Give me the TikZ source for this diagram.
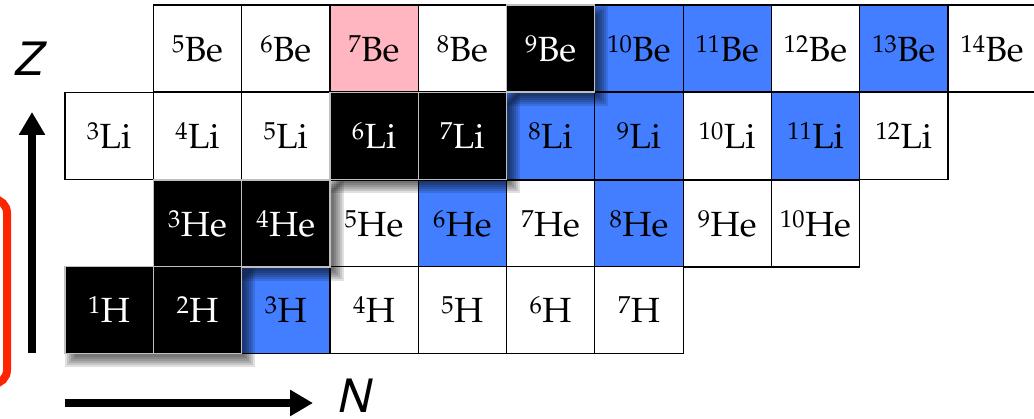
\documentclass[tikz,border=0pt]{standalone}
\usepackage[T1]{fontenc}
\usepackage{tikz}
\usetikzlibrary{arrows.meta,calc}
\renewcommand{\rmdefault}{ppl}

\definecolor{haloblue}{RGB}{66,126,255}
\definecolor{pinkfill}{RGB}{255,182,193}
\definecolor{framered}{RGB}{255,36,0}
\newcommand{\isofont}{\fontfamily{ppl}\fontsize{35}{40}\selectfont}
\newcommand{\axisfont}{\fontfamily{phv}\fontshape{sl}\fontsize{46}{50}\selectfont}
% soft drop shadow under a block of stable nuclei
\newcommand{\softshadow}[2]{%
  \foreach \k in {6,4,2,0,-2,-4}
    \fill[black, opacity=0.12] ($(#1.north west)+(7-\k,7-\k)$) rectangle ($(#2.south east)+(7+\k,7+\k)$);}
\pgfdeclarelayer{front}
\pgfsetlayers{main,front}

\tikzset{
  cell/.style={rectangle, minimum width=88.3pt, minimum height=87.1pt, inner sep=0pt, font=\isofont, line width=1.2pt},
  plain/.style={cell, draw=black, fill=white},
  halo/.style={cell, draw=black, fill=haloblue},
  pinkcell/.style={cell, draw=black, fill=pinkfill},
  stable/.style={cell, draw=black!25, fill=black, text=white},
  axis/.style={line width=7.5pt, -{Triangle[length=23pt,width=25pt]}},
}

\begin{document}
\begin{tikzpicture}[x=1pt, y=-1pt]
\useasboundingbox (0,0) rectangle (1034,419);
\clip (0,0) rectangle (1034,419);

% frame at the left edge
\draw[framered, line width=8pt, rounded corners=14pt] (-60,199) rectangle (7,384);

% axes
\coordinate (zfoot) at (32,353);
\coordinate (ztip) at (32,112);
\coordinate (nfoot) at (65,403);
\coordinate (ntip) at (313,403);
\draw[axis] (zfoot) -- (ztip);
\draw[axis] (nfoot) -- (ntip);
\node[font=\axisfont, inner sep=0pt] (zlab) at (28,59) {Z};
\node[font=\axisfont, inner sep=0pt] (nlab) at (353,396) {N};

% Be row
\foreach \A/\s in {5/plain,6/plain,7/pinkcell,8/plain,10/halo,11/halo,12/plain,13/halo,14/plain}
  \node[\s] (Be\A) at ({109.15+88.3*(\A-4)},48.5) {\textsuperscript{\A}Be};
% Li row
\foreach \A/\s in {3/plain,4/plain,5/plain,8/halo,9/halo,10/plain,11/halo,12/plain}
  \node[\s] (Li\A) at ({109.15+88.3*(\A-3)},136) {\textsuperscript{\A}Li};
% He row
\foreach \A/\s in {5/plain,6/halo,7/plain,8/halo,9/plain,10/plain}
  \node[\s] (He\A) at ({109.15+88.3*(\A-2)},223.5) {\textsuperscript{\A}He};
% H row
\foreach \A/\s in {3/halo,4/plain,5/plain,6/plain,7/plain}
  \node[\s] (H\A) at ({109.15+88.3*(\A-1)},310) {\textsuperscript{\A}H};

% stable nuclei, on top of their shadows
\begin{pgfonlayer}{front}
\foreach \el/\A/\Z/\y in {Be/9/4/48.5, Li/6/3/136, Li/7/3/136, He/3/2/223.5, He/4/2/223.5, H/1/1/310, H/2/1/310}
  \node[stable] (\el\A) at ({109.15+88.3*(\A-\Z)},\y) {\textsuperscript{\A}\el};
\end{pgfonlayer}

\softshadow{Be9}{Be9}
\softshadow{Li6}{Li7}
\softshadow{He3}{He4}
\softshadow{H1}{H2}
\end{tikzpicture}
\end{document}
